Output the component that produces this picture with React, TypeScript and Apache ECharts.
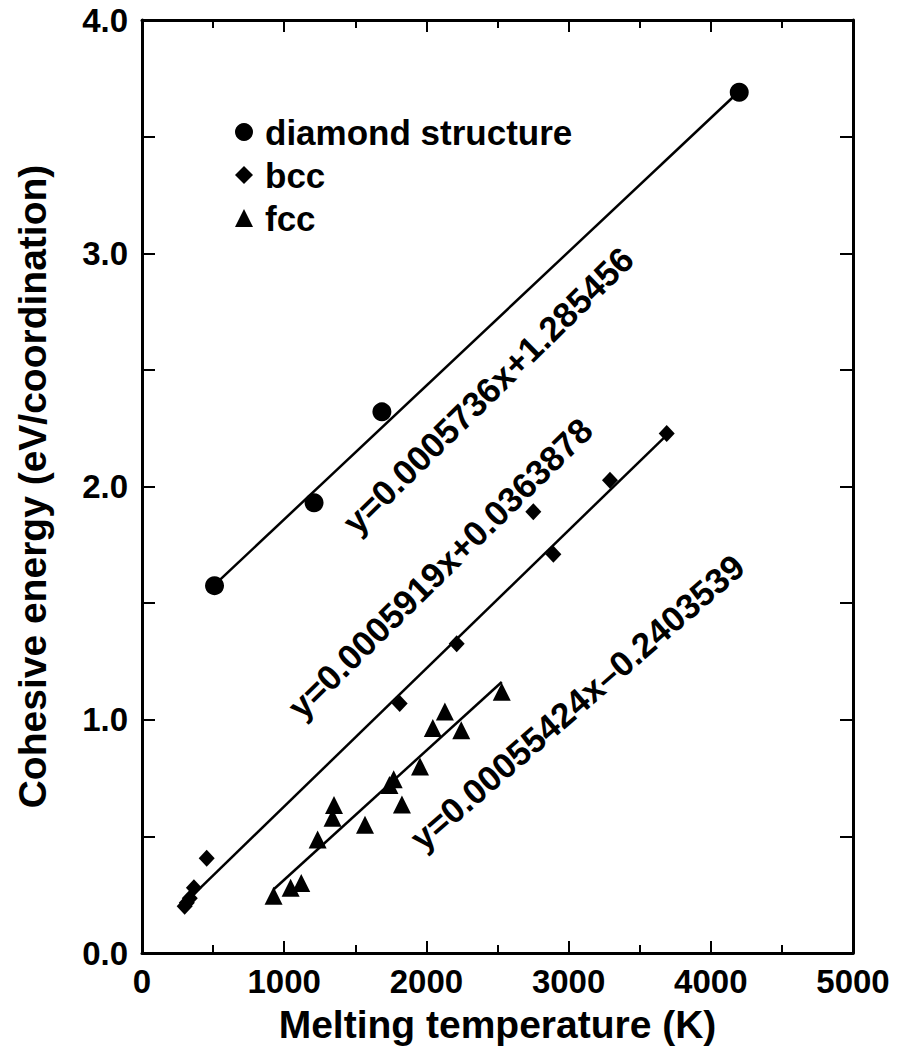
import React, { useEffect, useRef } from "react";
import * as echarts from "echarts";

const FONT = '"Liberation Sans", Arial, Helvetica, sans-serif';

// Data
const diamondTemp = [510, 1210, 1687, 4200];
const diamondEnergy = [1.575, 1.93, 2.32, 3.69];

const bccTemp = [300, 315, 336, 365, 455, 1812, 2213, 2752, 2893, 3291, 3690];
const bccEnergy = [0.2, 0.215, 0.235, 0.28, 0.406, 1.07, 1.326, 1.892, 1.71, 2.027, 2.227];

const fccTemp = [925, 1045, 1120, 1235, 1340, 1350, 1568, 1740, 1770, 1828, 1955, 2045, 2130, 2245, 2530];
const fccEnergy = [0.245, 0.28, 0.3, 0.487, 0.58, 0.635, 0.55, 0.72, 0.745, 0.637, 0.8, 0.965, 1.035, 0.955, 1.12];

const seriesNames = ["diamond structure", "bcc", "fcc"];

// Linear fits shown in the figure
const fitSlopes = [0.0005736, 0.0005919, 0.00055424];
const fitIntercepts = [1.285456, 0.0363878, -0.2403539];
const fitLabels = [
  "y=0.0005736x+1.285456",
  "y=0.0005919x+0.0363878",
  "y=0.00055424x\u20130.2403539",
];

// Equation label anchors (data space) and angles (deg)
const labelTemp = [2433, 2095, 3059];
const labelEnergy = [2.413, 1.65, 1.076];
const labelAngles = [44.5, 44.5, 41];

const xTickValues = [0, 1000, 2000, 3000, 4000, 5000];

export default function App() {
  const ref = useRef<HTMLDivElement>(null);

  useEffect(() => {
    if (!ref.current) return;
    const chart = echarts.init(ref.current, undefined, { renderer: "svg" });

    const temps = [diamondTemp, bccTemp, fccTemp];
    const energies = [diamondEnergy, bccEnergy, fccEnergy];
    const symbols = ["circle", "diamond", "triangle"];
    const sizes: any[] = [19, [16, 17], 18];

    const scatterSeries = seriesNames.map((name, i) => ({
      name,
      type: "scatter",
      symbol: symbols[i],
      symbolSize: sizes[i],
      itemStyle: { color: "#000", opacity: 1 },
      data: temps[i].map((t, j) => [t, energies[i][j]]),
      z: 3,
    }));

    const fitSeries = fitSlopes.map((m, i) => {
      const x0 = Math.min(...temps[i]);
      const x1 = Math.max(...temps[i]);
      return {
        name: "fit" + i,
        type: "line",
        showSymbol: false,
        symbol: "none",
        silent: true,
        lineStyle: { color: "#000", width: 2.5 },
        data: [
          [x0, m * x0 + fitIntercepts[i]],
          [x1, m * x1 + fitIntercepts[i]],
        ],
        z: 2,
      };
    });

    const axisLine = { show: true, onZero: false, lineStyle: { color: "#000", width: 3 } };

    chart.setOption({
      animation: false,
      backgroundColor: "#fff",
      grid: { left: 142, right: 46, top: 20, bottom: 104 },
      legend: {
        data: seriesNames,
        orient: "vertical",
        left: 230,
        top: 109,
        itemWidth: 18,
        itemHeight: 18,
        itemGap: 7,
        selectedMode: false,
        textStyle: {
          fontFamily: FONT,
          fontWeight: "bold",
          fontSize: 35,
          color: "#000",
          lineHeight: 36,
          padding: [0, 0, 0, 7],
        },
      },
      xAxis: [
        {
          type: "value",
          min: 0,
          max: 5000,
          interval: 1000,
          position: "bottom",
          axisLine,
          axisTick: { show: true, inside: true, length: 12, lineStyle: { color: "#000", width: 2 } },
          minorTick: { show: true, splitNumber: 2, length: 8, lineStyle: { color: "#000", width: 2 } },
          splitLine: { show: false },
          axisLabel: {
            show: true,
            margin: 12,
            color: "#000",
            fontFamily: FONT,
            fontWeight: "bold",
            fontSize: 33,
            formatter: (v: number) => (xTickValues.includes(v) ? String(v) : ""),
          },
          name: "Melting temperature (K)",
          nameLocation: "middle",
          nameGap: 52,
          nameTextStyle: { fontFamily: FONT, fontWeight: "bold", fontSize: 39, color: "#000" },
        },
        {
          type: "value",
          min: 0,
          max: 5000,
          interval: 1000,
          position: "top",
          axisLine,
          axisTick: { show: true, inside: true, length: 12, lineStyle: { color: "#000", width: 2 } },
          minorTick: { show: true, splitNumber: 2, length: 8, lineStyle: { color: "#000", width: 2 } },
          splitLine: { show: false },
          axisLabel: { show: false },
        },
      ],
      yAxis: [
        {
          type: "value",
          min: 0,
          max: 4,
          interval: 1,
          position: "left",
          axisLine,
          axisTick: { show: true, inside: true, length: 13, lineStyle: { color: "#000", width: 2 } },
          minorTick: { show: true, splitNumber: 2, length: 13, lineStyle: { color: "#000", width: 2 } },
          splitLine: { show: false },
          axisLabel: {
            show: true,
            margin: 14,
            color: "#000",
            fontFamily: FONT,
            fontWeight: "bold",
            fontSize: 33,
            formatter: (v: number) => v.toFixed(1),
          },
          name: "Cohesive energy (eV/coordination)",
          nameLocation: "middle",
          nameGap: 90,
          nameRotate: 90,
          nameTextStyle: { fontFamily: FONT, fontWeight: "bold", fontSize: 39, color: "#000" },
        },
        {
          type: "value",
          min: 0,
          max: 4,
          interval: 1,
          position: "right",
          axisLine,
          axisTick: { show: true, inside: true, length: 13, lineStyle: { color: "#000", width: 2 } },
          minorTick: { show: true, splitNumber: 2, length: 13, lineStyle: { color: "#000", width: 2 } },
          splitLine: { show: false },
          axisLabel: { show: false },
        },
      ],
      series: [...fitSeries, ...scatterSeries],
    });

    const graphics = fitLabels.map((text, i) => {
      const p = chart.convertToPixel({ xAxisIndex: 0, yAxisIndex: 0 }, [labelTemp[i], labelEnergy[i]]) as number[];
      return {
        type: "text",
        x: p[0],
        y: p[1],
        rotation: (labelAngles[i] * Math.PI) / 180,
        silent: true,
        z: 10,
        style: {
          text,
          fontFamily: FONT,
          fontWeight: "bold",
          fontSize: 35,
          fill: "#000",
          align: "center",
          verticalAlign: "middle",
        },
      };
    });
    chart.setOption({ graphic: graphics });

    return () => chart.dispose();
  }, []);

  return (
    <div
      ref={ref}
      style={{ position: "fixed", left: 0, top: 0, width: 899, height: 1057, background: "#fff" }}
    />
  );
}
